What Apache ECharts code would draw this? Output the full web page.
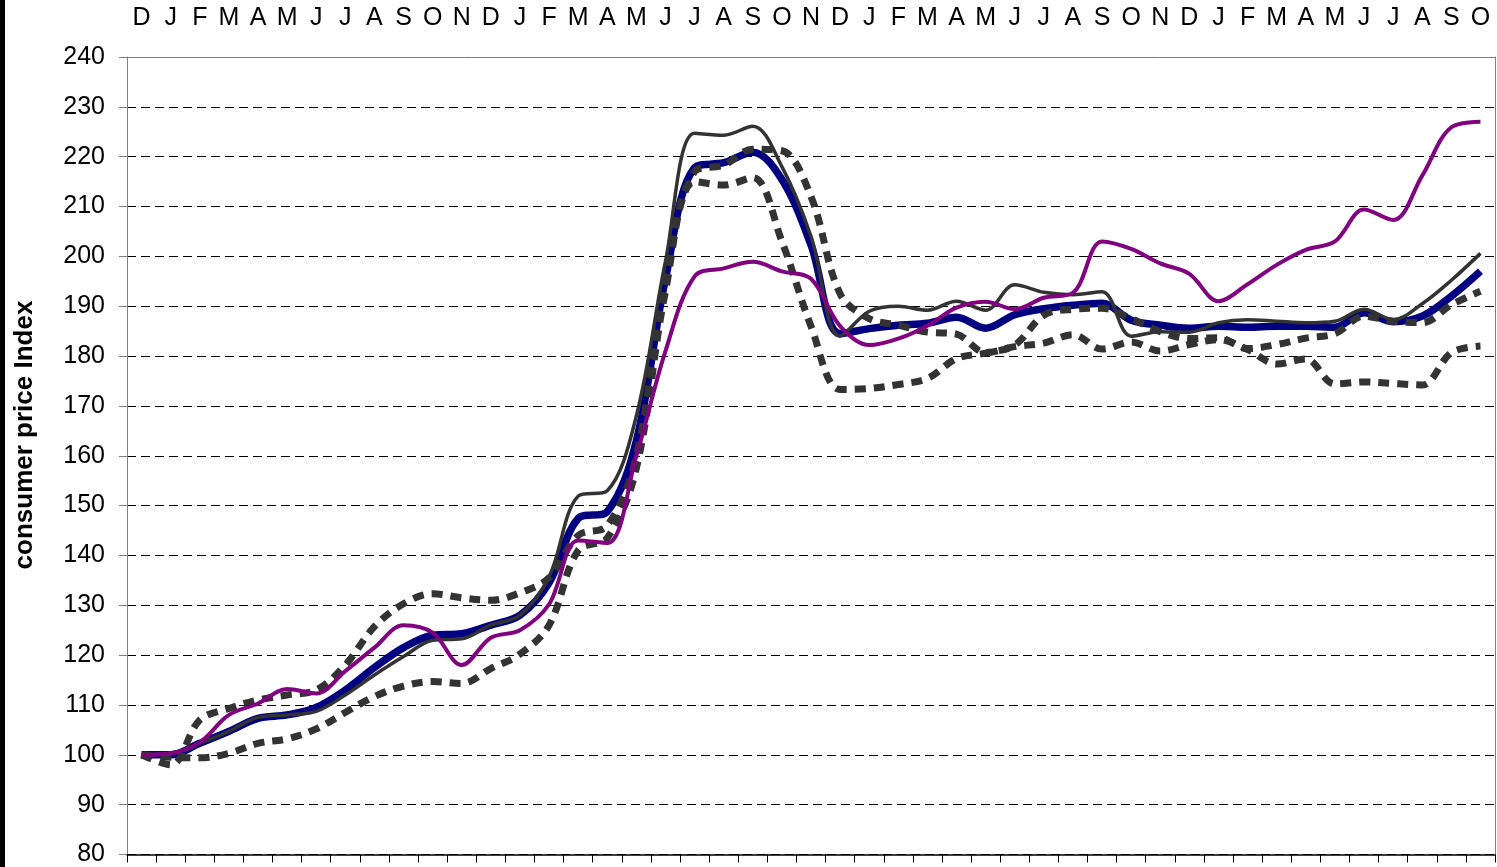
<!DOCTYPE html>
<html>
<head>
<meta charset="utf-8">
<script src="https://cdn.jsdelivr.net/npm/echarts@6/dist/echarts.min.js"></script>
<style>
  html, body { margin: 0; padding: 0; background: #fff; }
  #main { width: 1497px; height: 867px; }
</style>
</head>
<body>
<div id="main"></div>
<script>
// month labels along the top axis
var months = ['D',
  'J','F','M','A','M','J','J','A','S','O','N','D',
  'J','F','M','A','M','J','J','A','S','O','N','D',
  'J','F','M','A','M','J','J','A','S','O','N','D',
  'J','F','M','A','M','J','J','A','S','O'];

// thick navy line
var cpiNavy = [100, 100, 102.3, 104.7, 107.3, 108, 109.5, 113, 117.5, 121.5, 124, 124.3,
  126, 128, 134.5, 147.4, 148.8, 163, 195.5, 217.8, 218.8, 220.9, 215.4, 202.3,
  184.5, 185.5, 186.2, 186.6, 187.8, 185.6, 188.3, 189.5, 190.2, 190.6, 187.2, 186.2,
  185.6, 186, 185.8, 186, 186, 185.8, 188.7, 186.9, 188, 192, 197];

// thin dark grey line
var cpiGrey = [100, 100.3, 102.3, 104.7, 107.5, 108, 108.7, 112, 116, 119.7, 123, 123.3,
  126, 128, 135.7, 151.9, 153, 168, 199, 224.7, 224.3, 226.1, 218, 204,
  184, 189, 190, 189.2, 191, 189.2, 194.3, 192.8, 192.3, 192.9, 184, 184.9,
  184.8, 186.7, 187.3, 187, 186.7, 187, 189.4, 187.3, 190.5, 195.2, 200.6];

// thick dashed lines
var cpiDashA = [100, 98, 107, 109.3, 111, 112, 113, 118, 125.7, 130.3, 132.3, 131.5,
  131, 132.5, 135.5, 144, 146, 160, 196, 217, 218.3, 221.5, 221.2, 212,
  192.5, 187.5, 186.2, 184.8, 184.4, 180.7, 181.9, 182.6, 184.3, 181.4, 182.8, 181,
  182.3, 183.3, 181.3, 178.4, 179.4, 174.4, 174.8, 174.5, 174.2, 180.7, 182];

var cpiDashB = [100, 99.5, 99.4, 100.3, 102.3, 103.2, 105.2, 108.5, 111.7, 113.8, 114.7, 114.3,
  117.3, 120.2, 126, 141, 143.5, 157.5, 193, 215, 214.3, 215.8, 203, 186,
  173.3, 173.5, 174.3, 175.5, 179.5, 180.6, 182.2, 188.2, 189.4, 189.6, 187.5, 184.9,
  183.5, 183.7, 181.5, 182.3, 183.6, 184.5, 188, 187, 186.7, 190.3, 193];

// purple line
var cpiPurple = [100, 100.3, 102.5, 108, 110.3, 113.2, 112.3, 116.8, 121.5, 126, 124.5, 118,
  123.5, 125, 130.2, 143, 142.5, 160, 181, 196, 197.6, 198.9, 197, 195.5,
  186, 182.2, 183.5, 186.1, 189.7, 190.9, 189.4, 191.7, 192.7, 203, 201.5, 198.6,
  196.5, 191, 194.4, 198.3, 201.3, 203, 209.4, 207.3, 216.2, 225.9, 227];

var FONT = '"Liberation Sans", Arial, sans-serif';

var myChart = echarts.init(document.getElementById('main'));

function line(name, data, color, width, dash) {
    return {
        name: name,
        type: 'line',
        data: data,
        smooth: 0.35,
        symbol: 'none',
        lineStyle: {color: color, width: width, type: dash || 'solid', cap: 'butt'}
    };
}

myChart.setOption({
    animation: false,
    backgroundColor: '#fff',
    grid: {left: 127, right: 2, top: 57, bottom: 11},
    graphic: [
        {
            type: 'rect',
            left: 0, top: 0,
            shape: {width: 5, height: 867},
            style: {fill: '#000'}
        },
        {
            // y axis title, rotated
            type: 'text',
            x: 25, y: 435,
            rotation: Math.PI / 2,
            style: {
                text: 'consumer price Index',
                font: 'bold 26px ' + FONT,
                fill: '#000',
                textAlign: 'center',
                textVerticalAlign: 'middle'
            }
        }
    ],
    xAxis: [
        {
            type: 'category',
            data: months,
            position: 'bottom',
            boundaryGap: true,
            axisLabel: {show: false},
            axisTick: {show: true, length: 8, lineStyle: {color: '#000'}},
            axisLine: {lineStyle: {color: '#000', width: 1.5}},
            splitLine: {show: false}
        },
        {
            type: 'category',
            data: months,
            position: 'top',
            boundaryGap: true,
            axisLabel: {interval: 0, fontSize: 25, color: '#000', margin: 26, fontFamily: FONT},
            axisTick: {show: false},
            axisLine: {lineStyle: {color: '#808080', width: 1}},
            splitLine: {show: false}
        }
    ],
    yAxis: [
        {
            type: 'value',
            min: 80,
            max: 240,
            interval: 10,
            position: 'left',
            axisLine: {show: true, lineStyle: {color: '#808080'}},
            axisTick: {show: true, length: 8, lineStyle: {color: '#808080'}},
            axisLabel: {fontSize: 25, color: '#000', margin: 22, fontFamily: FONT},
            splitLine: {show: true, lineStyle: {type: [9, 5], color: '#000', width: 1}}
        },
        {
            type: 'value',
            min: 80,
            max: 240,
            position: 'right',
            axisLine: {show: true, lineStyle: {color: '#808080'}},
            axisTick: {show: false},
            axisLabel: {show: false},
            splitLine: {show: false}
        }
    ],
    series: [
        line('navy', cpiNavy, '#000080', 7.5),
        line('grey', cpiGrey, '#333333', 3.5),
        line('dashB', cpiDashB, '#333333', 7, [11, 8]),
        line('dashA', cpiDashA, '#333333', 7, [11, 8]),
        line('purple', cpiPurple, '#800080', 4)
    ]
});
</script>
</body>
</html>
